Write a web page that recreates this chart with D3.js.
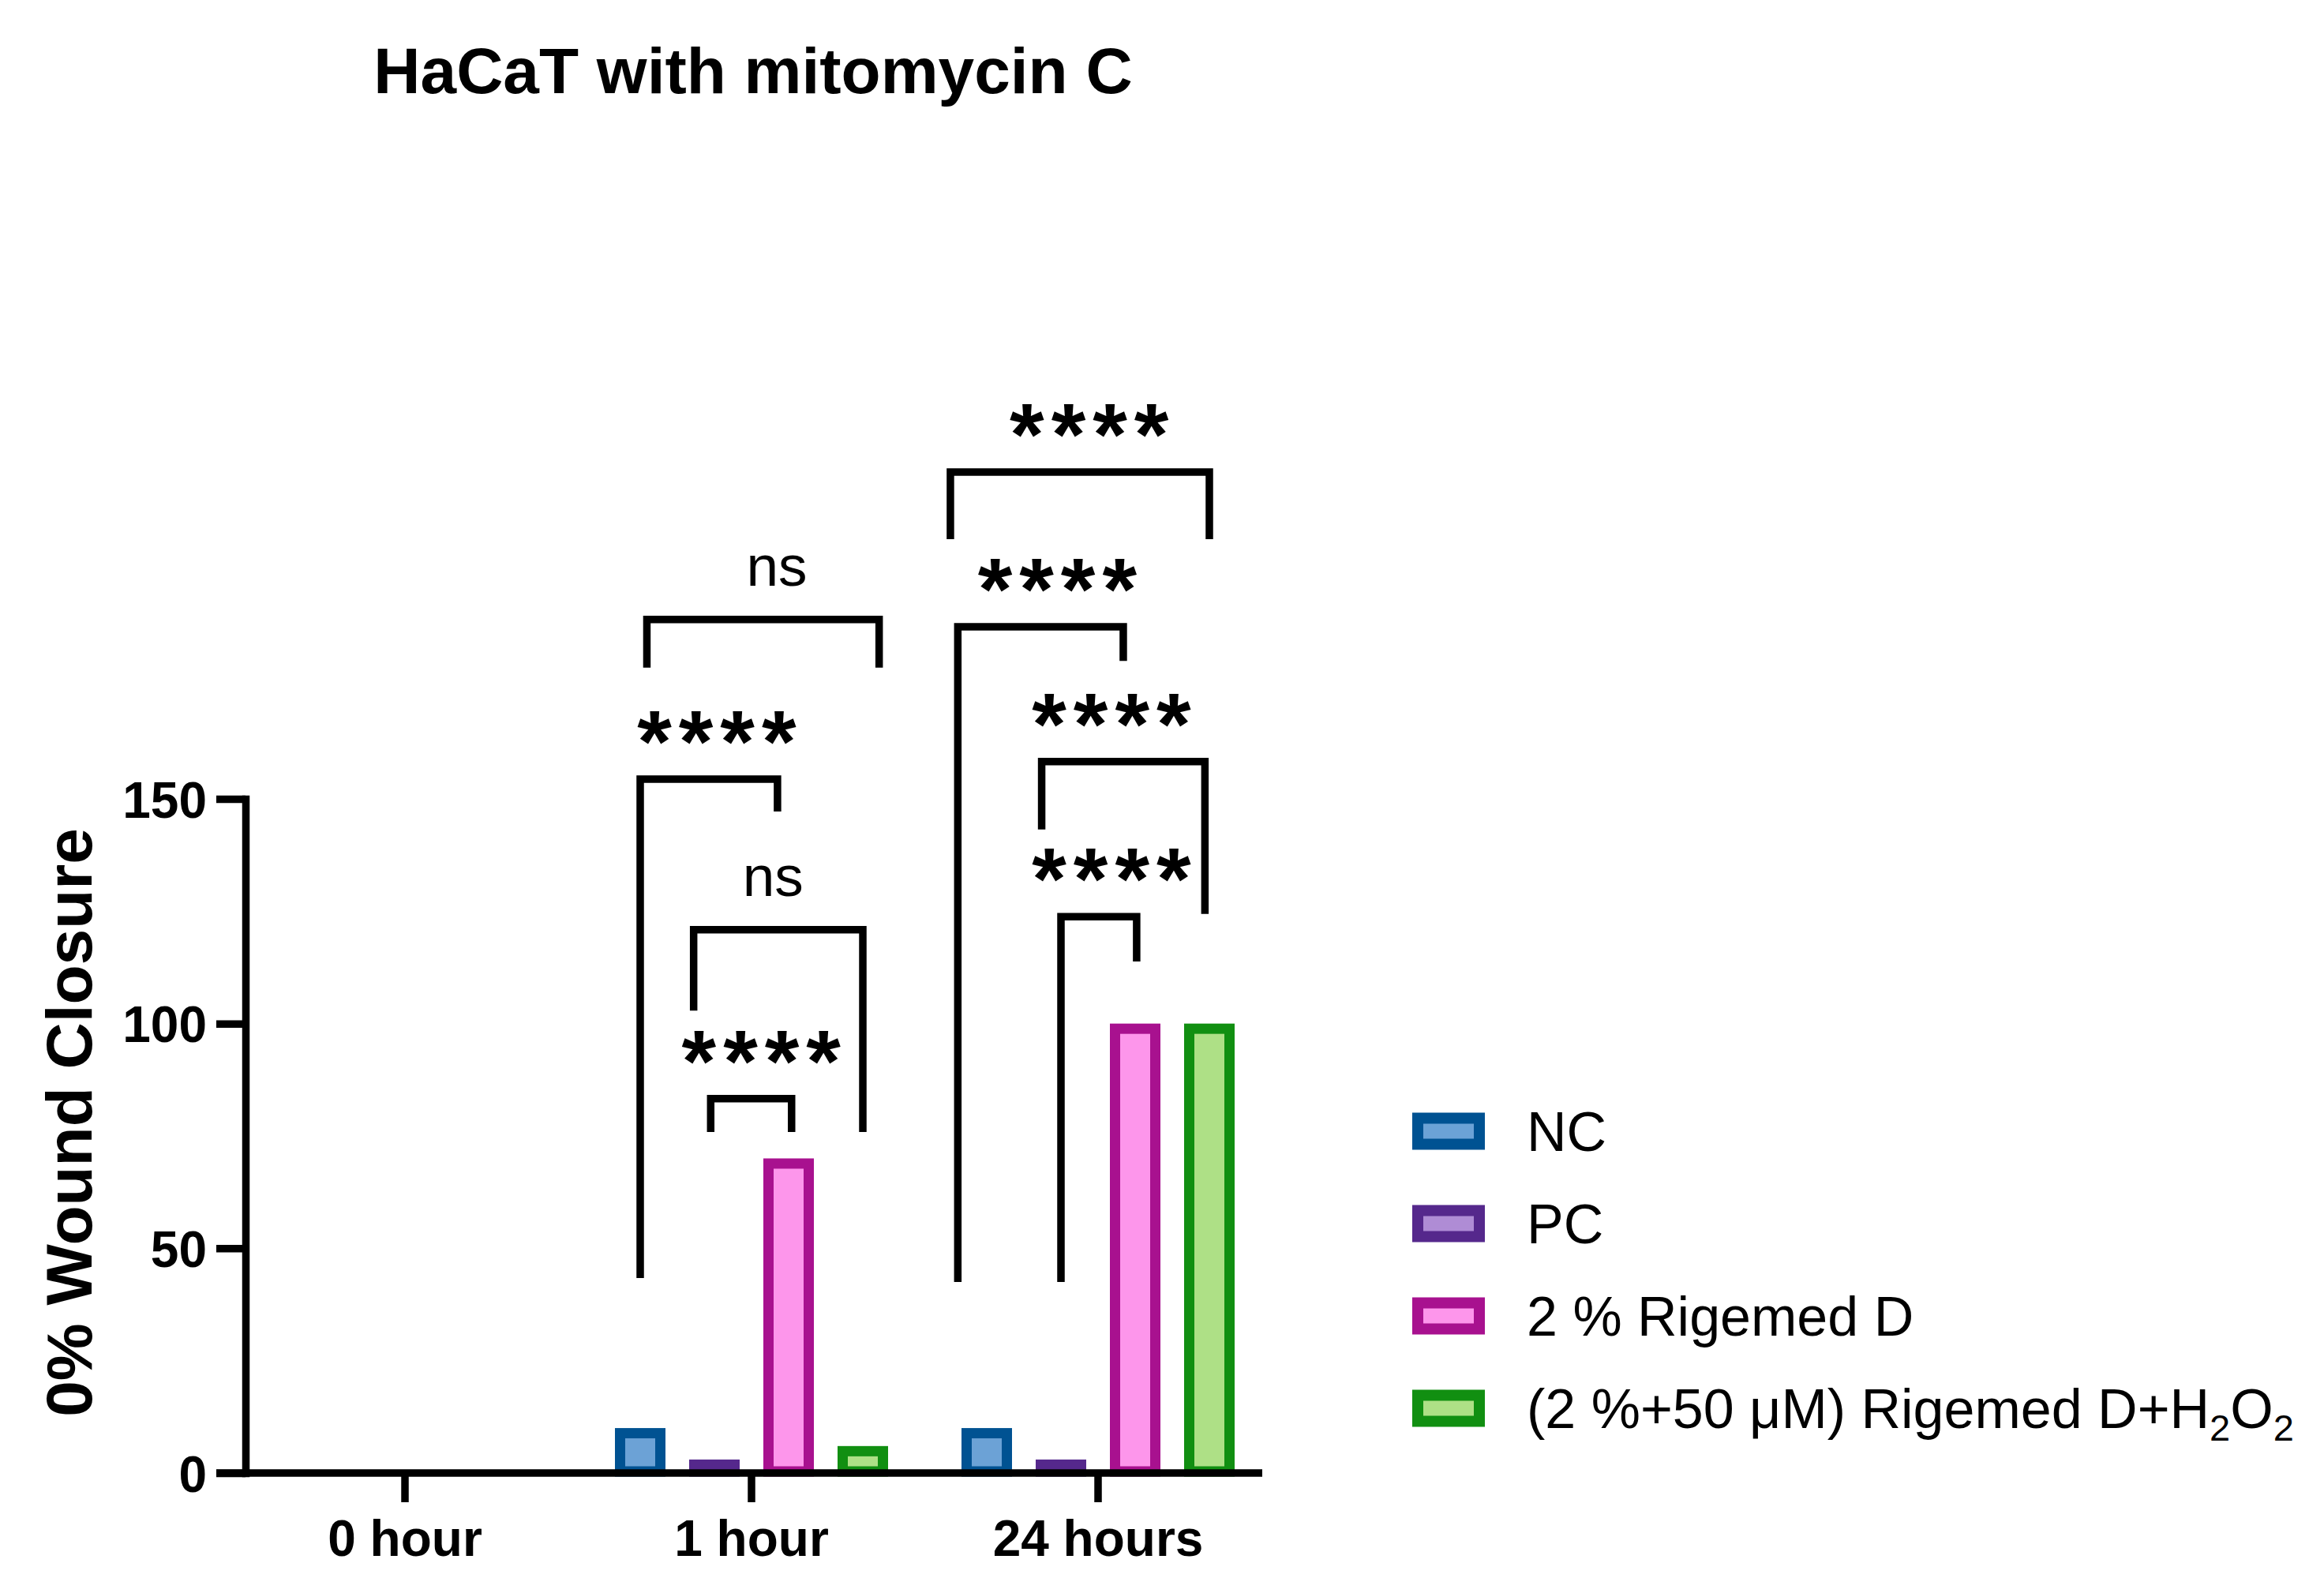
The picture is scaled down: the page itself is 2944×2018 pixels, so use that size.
<!DOCTYPE html>
<html>
<head>
<meta charset="utf-8">
<script src="https://cdn.jsdelivr.net/npm/d3@7"></script>
<style>
  html, body { margin: 0; padding: 0; background: #fff; }
  svg text { font-family: "Liberation Sans", Arial, sans-serif; fill: #000; }
</style>
</head>
<body>
<svg id="chart"></svg>
<script>
// data
const groups = ["0 hour", "1 hour", "24 hours"];
const series = ["NC", "PC", "2 % Rigemed D", "(2 %+50 μM) Rigemed D+H2O2"];
const valuesByGroup = [
    [0, 0, 0, 0],
    [10, 3, 70, 6],
    [10, 3, 100, 100]
];
const yTicks = [0, 50, 100, 150];
const strokeColors = ["#005292", "#55288C", "#A8118F", "#118F11"];
const fillColors = ["#6CA2D6", "#AF8CD5", "#FD96EB", "#AEE086"];

// comparisons: group, bracket ends (fractional bar index), top and leg ends in y units
const comparisons = [
    { group: "1 hour", from: 0.00, to: 1.85, top: 154.4, leftEnd: 43.4, rightEnd: 147.2, label: "****", labelAt: 1.03 },
    { group: "1 hour", from: 0.72, to: 3.00, top: 120.9, leftEnd: 102.9, rightEnd: 75.9, label: "ns", labelAt: 1.79 },
    { group: "1 hour", from: 0.95, to: 2.04, top: 83.3, leftEnd: 75.9, rightEnd: 75.9, label: "****", labelAt: 1.63 },
    { group: "1 hour", from: 0.09, to: 3.22, top: 189.9, leftEnd: 179.2, rightEnd: 179.2, label: "ns", labelAt: 1.84 },
    { group: "24 hours", from: -0.49, to: 3.00, top: 222.7, leftEnd: 207.8, rightEnd: 207.8, label: "****", labelAt: 1.38 },
    { group: "24 hours", from: -0.39, to: 1.84, top: 188.3, leftEnd: 42.5, rightEnd: 180.7, label: "****", labelAt: 0.95 },
    { group: "24 hours", from: 0.74, to: 2.94, top: 158.3, leftEnd: 143.2, rightEnd: 124.4, label: "****", labelAt: 1.68 },
    { group: "24 hours", from: 1.00, to: 2.02, top: 123.8, leftEnd: 42.5, rightEnd: 113.8, label: "****", labelAt: 1.68 }
];

const W = 2944, H = 2018;
const lineW = 9.5;
const barStroke = 13;
const starSpacing = 9;

const svg = d3.select("#chart")
    .attr("width", W)
    .attr("height", H)
    .attr("viewBox", `0 0 ${W} ${H}`);

svg.append("rect").attr("width", W).attr("height", H).attr("fill", "#fff");

const y = d3.scaleLinear()
    .domain([0, 150])
    .range([1866, 1012]);

const x = d3.scaleBand()
    .domain(groups)
    .range([293.5, 1610.5])
    .padding(0);

const xInner = d3.scaleBand()
    .domain(series)
    .range([-188, 188])
    .paddingInner(30 / 94)
    .paddingOuter(15 / 94);

const barStep = xInner.step();
const center = g => x(g) + x.bandwidth() / 2;
// position of a (fractional) bar index inside a group
const xAt = (g, i) => center(g) + xInner(series[0]) + xInner.bandwidth() / 2 + i * barStep;

// Title
svg.append("text")
    .attr("x", 954)
    .attr("y", 118)
    .attr("text-anchor", "middle")
    .style("font-weight", "bold")
    .style("font-size", "82px")
    .text("HaCaT with mitomycin C");

// Bars
const barData = [];
groups.forEach((g, gi) => {
    series.forEach((s, si) => {
        barData.push({ group: g, series: s, si: si, value: valuesByGroup[gi][si] });
    });
});

svg.append("g")
    .selectAll("rect")
    .data(barData.filter(d => d.value > 0))
    .enter()
    .append("rect")
    .attr("x", d => center(d.group) + xInner(d.series) + barStroke / 2)
    .attr("width", xInner.bandwidth() - barStroke)
    .attr("y", d => y(d.value) + barStroke / 2)
    .attr("height", d => Math.max(0, y(0) - 2 - y(d.value) - barStroke / 2))
    .attr("fill", d => fillColors[d.si])
    .attr("stroke", d => strokeColors[d.si])
    .attr("stroke-width", barStroke);

// Y axis
const yAxis = svg.append("g")
    .attr("transform", "translate(311,0)")
    .call(d3.axisLeft(y).tickValues(yTicks).tickSize(37).tickSizeOuter(0).tickPadding(12));
yAxis.select(".domain")
    .attr("stroke", "#000")
    .attr("stroke-width", lineW)
    .attr("stroke-linecap", "square");
yAxis.selectAll(".tick line").attr("stroke", "#000").attr("stroke-width", lineW);
yAxis.selectAll(".tick text")
    .attr("dy", null)
    .attr("y", 23)
    .style("font-family", "'Liberation Sans', Arial, sans-serif")
    .style("font-weight", "bold")
    .style("font-size", "64px");

// X axis
const xAxis = svg.append("g")
    .attr("transform", `translate(0,${y(0)})`)
    .call(d3.axisBottom(x).tickSize(37).tickSizeOuter(0));
xAxis.select(".domain").remove();
xAxis.append("line")
    .attr("x1", 274)
    .attr("x2", 1599)
    .attr("stroke", "#000")
    .attr("stroke-width", lineW);
xAxis.selectAll(".tick line").attr("stroke", "#000").attr("stroke-width", lineW);
xAxis.selectAll(".tick text")
    .attr("dy", null)
    .attr("y", 105)
    .style("font-family", "'Liberation Sans', Arial, sans-serif")
    .style("font-weight", "bold")
    .style("font-size", "64px");

// Y axis title
svg.append("text")
    .attr("transform", "translate(116,1422) rotate(-90)")
    .attr("text-anchor", "middle")
    .style("font-weight", "bold")
    .style("font-size", "82px")
    .text("0% Wound Closure");

// Significance brackets
const brackets = svg.append("g");
brackets.selectAll("path")
    .data(comparisons)
    .enter()
    .append("path")
    .attr("d", d => {
        const xl = xAt(d.group, d.from), xr = xAt(d.group, d.to);
        return `M${xl},${y(d.leftEnd)}V${y(d.top)}H${xr}V${y(d.rightEnd)}`;
    })
    .attr("fill", "none")
    .attr("stroke", "#000")
    .attr("stroke-width", lineW)
    .attr("stroke-linejoin", "miter");

brackets.selectAll("text")
    .data(comparisons)
    .enter()
    .append("text")
    .attr("x", d => xAt(d.group, d.labelAt) + (d.label === "ns" ? 0 : starSpacing / 2))
    .attr("y", d => d.label === "ns" ? y(d.top) - 43 : y(d.top) - 9)
    .attr("text-anchor", "middle")
    .style("letter-spacing", d => d.label === "ns" ? null : starSpacing + "px")
    .style("font-weight", d => d.label === "ns" ? null : "bold")
    .style("font-size", d => d.label === "ns" ? "73px" : "112px")
    .text(d => d.label);

// Legend
const legend = svg.append("g");
const legendY = i => 1433 + i * 117;
series.forEach((s, i) => {
    legend.append("rect")
        .attr("x", 1789 + 7)
        .attr("y", legendY(i) - 23.5 + 7)
        .attr("width", 92 - 14)
        .attr("height", 47 - 14)
        .attr("fill", fillColors[i])
        .attr("stroke", strokeColors[i])
        .attr("stroke-width", 14);

    const t = legend.append("text")
        .attr("x", 1934)
        .attr("y", legendY(i) + 25)
        .style("font-size", "70px");
    const m = s.match(/^(.*H)2O2$/);
    if (m) {
        t.append("tspan").text(m[1]);
        t.append("tspan").attr("dy", 16).style("font-size", "47px").text("2");
        t.append("tspan").attr("dy", -16).text("O");
        t.append("tspan").attr("dy", 16).style("font-size", "47px").text("2");
    } else {
        t.text(s);
    }
});
</script>
</body>
</html>
